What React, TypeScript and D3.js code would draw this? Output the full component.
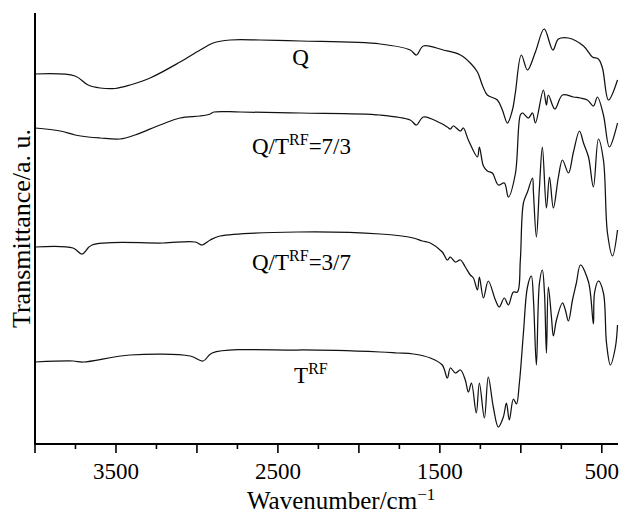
import React from "react";
import * as d3 from "d3";

type P = [number, number];

// wavenumber (cm^-1), transmittance (a.u., offset stacked)
const specQ: P[] = [
  [4000, 370], [3753, 368], [3672, 359], [3598, 356], [3506, 355.5], [3413, 359], [3289, 366],
  [3104, 382], [2980, 394], [2900, 401], [2795, 404], [2610, 404], [2362, 403], [1868, 400],
  [1683, 394], [1645, 389], [1602, 398], [1479, 394], [1373, 389], [1312, 381], [1268, 372],
  [1238, 359], [1207, 349], [1145, 344], [1114, 334], [1083, 321], [1052, 334], [1034, 351],
  [997, 389], [959, 374], [910, 392], [856, 415], [802, 394], [768, 405], [706, 406],
  [613, 398], [558, 387], [521, 385], [496, 376], [459, 344], [403, 364],
];

const specQT73: P[] = [
  [4000, 316], [3845, 313], [3753, 309], [3672, 307], [3598, 306], [3475, 305], [3382, 309],
  [3228, 319], [3104, 326], [2980, 328], [2918, 330], [2895, 332], [2733, 332],
  [2362, 331], [1868, 329], [1683, 324], [1645, 319], [1602, 327], [1497, 321], [1454, 317],
  [1435, 315], [1417, 318], [1373, 313], [1355, 316], [1324, 304], [1268, 287], [1256, 297],
  [1231, 278], [1207, 273], [1176, 271], [1139, 259], [1102, 261], [1077, 247], [1034, 270],
  [1003, 329], [990, 331], [953, 326], [928, 331], [910, 321], [861, 354], [842, 339],
  [830, 349], [790, 335], [743, 349], [675, 347], [632, 346], [589, 344], [552, 338],
  [527, 347], [490, 329], [453, 297], [403, 321],
];

const specQT37: P[] = [
  [4000, 197], [3765, 196], [3710, 190], [3648, 199], [3209, 201], [3011, 202], [2968, 199],
  [2918, 204], [2857, 208], [2381, 212], [1868, 210], [1664, 206], [1608, 203], [1559, 201],
  [1485, 192], [1454, 184], [1435, 187], [1404, 182], [1373, 184], [1343, 177], [1312, 169],
  [1293, 166], [1268, 154], [1256, 167], [1231, 146], [1201, 163], [1157, 144], [1133, 137],
  [1102, 146], [1077, 139], [1046, 152], [1021, 152], [1003, 184], [984, 241], [959, 252],
  [928, 266], [922, 251], [904, 207], [885, 257], [867, 297], [842, 236], [823, 267],
  [799, 236], [768, 267], [743, 284], [706, 271], [675, 292], [638, 313], [613, 301],
  [582, 287], [552, 257], [521, 305], [490, 284], [465, 211], [434, 188], [403, 214],
];

const specT: P[] = [
  [4000, 82], [3765, 83], [3703, 82], [3413, 89], [3042, 88], [2962, 83], [2906, 91],
  [2381, 94], [1868, 92], [1763, 91], [1664, 90], [1559, 86], [1485, 79], [1454, 66],
  [1435, 76], [1404, 71], [1373, 74], [1343, 64], [1324, 52], [1305, 61], [1275, 31],
  [1256, 61], [1225, 26], [1201, 67], [1170, 37], [1139, 17], [1108, 27], [1089, 41],
  [1071, 24], [1046, 45], [1027, 40], [1009, 61], [984, 111], [959, 157], [935, 168],
  [922, 144], [904, 79], [885, 161], [867, 174], [854, 151], [842, 91], [830, 157],
  [811, 127], [799, 108], [780, 124], [743, 141], [725, 134], [706, 123], [681, 144],
  [657, 161], [632, 179], [582, 162], [552, 120], [545, 151], [521, 163], [490, 151],
  [471, 101], [447, 79], [416, 97], [403, 119],
];

const seriesData: P[][] = [specQ, specQT73, specQT37, specT];
// label: [base, superscript, tail]
const seriesLabels: [string, string, string][] = [
  ["Q", "", ""],
  ["Q/T", "RF", "=7/3"],
  ["Q/T", "RF", "=3/7"],
  ["T", "RF", ""],
];
const labelAnchors: P[] = [
  [2412, 379], [2660, 290], [2660, 174], [2400, 61],
];

const majorTicks = [4000, 3500, 3000, 2500, 2000, 1500, 1000, 500];
const minorTicks = [3750, 3250, 2750, 2250, 1750, 1250, 750];
const tickLabels = [3500, 2500, 1500, 500];

const FONT = "'Liberation Serif', 'Times New Roman', serif";

export default function App() {
  const x = d3.scaleLinear().domain([4000, 400]).range([35, 618]);
  const y = d3.scaleLinear().domain([0, 431]).range([444, 13]);
  const line = d3
    .line<P>()
    .x((d) => x(d[0]))
    .y((d) => y(d[1]))
    .curve(d3.curveCatmullRom.alpha(0.5));

  const x0 = x.range()[0];
  const x1 = x.range()[1];
  const yb = y.range()[0];
  const yt = y.range()[1];

  return (
    <svg
      width={621}
      height={521}
      style={{ position: "absolute", left: 0, top: 0, background: "#fff" }}
      fontFamily={FONT}
    >
      <rect x={0} y={0} width={621} height={521} fill="#fff" />
      {seriesData.map((d, i) => (
        <path key={i} d={line(d) || ""} fill="none" stroke="#111" strokeWidth={1.25} />
      ))}
      {/* axes */}
      <line x1={x0} y1={yt} x2={x0} y2={yb} stroke="#000" strokeWidth={2} />
      <line x1={x0 - 1} y1={yb} x2={x1} y2={yb} stroke="#000" strokeWidth={2} />
      {majorTicks.map((t) => (
        <line key={"M" + t} x1={x(t)} x2={x(t)} y1={yb} y2={yb + 9} stroke="#000" strokeWidth={1.6} />
      ))}
      {minorTicks.map((t) => (
        <line key={"m" + t} x1={x(t)} x2={x(t)} y1={yb} y2={yb + 5} stroke="#000" strokeWidth={1.6} />
      ))}
      {tickLabels.map((t) => (
        <text key={"l" + t} x={x(t)} y={479} fontSize={23} textAnchor="middle" fill="#000">
          {t}
        </text>
      ))}
      {/* series labels */}
      {seriesLabels.map((l, i) => (
        <text key={"s" + i} x={x(labelAnchors[i][0])} y={y(labelAnchors[i][1])} fontSize={23} fill="#000">
          {l[0]}
          {l[1] && (
            <tspan dy={-9} fontSize={16}>
              {l[1]}
            </tspan>
          )}
          {l[2] && <tspan dy={9}>{l[2]}</tspan>}
        </text>
      ))}
      {/* axis titles */}
      <text x={247} y={509} fontSize={25} fill="#000">
        Wavenumber/cm
        <tspan dy={-9} fontSize={17}>
          −1
        </tspan>
      </text>
      <text
        transform={`translate(30,${(yt + yb) / 2}) rotate(-90)`}
        fontSize={26}
        textAnchor="middle"
        fill="#000"
      >
        Transmittance/a. u.
      </text>
    </svg>
  );
}
